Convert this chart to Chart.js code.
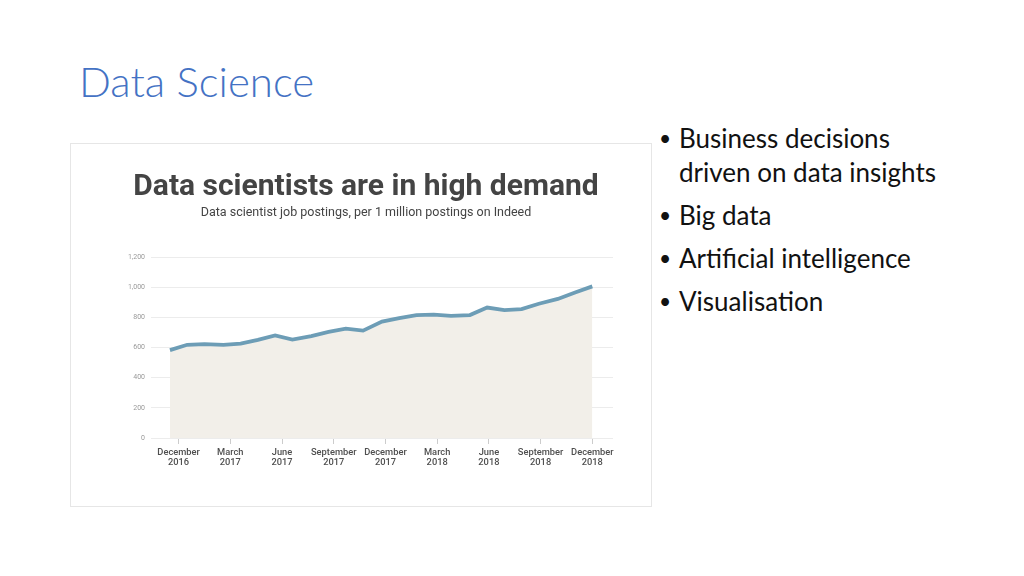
<!DOCTYPE html>
<html>
<head>
<meta charset="utf-8">
<script src="https://cdn.jsdelivr.net/npm/chart.js@4.4.1/dist/chart.umd.min.js"></script>
<style>
  html, body { margin: 0; padding: 0; background: #fff; }
  body { width: 1024px; height: 576px; position: relative; overflow: hidden; font-family: Lato, "Open Sans", sans-serif; }
  #titre { position: absolute; left: 79px; top: 56px; font-size: 42px; font-weight: 300; color: #4472c4; }
  #cadre { position: absolute; left: 70px; top: 143px; width: 580px; height: 362px; border: 1px solid #e6e6e6; background: #fff; }
  #graf { position: absolute; left: 0; top: 0; }
  ul { position: absolute; left: 658px; top: 121px; margin: 0; padding: 0; list-style: none; font-size: 26px; color: #111; width: 300px; }
  li { position: relative; padding-left: 21px; line-height: 34px; margin-bottom: 9px; }
  li:before { content: "\2022"; position: absolute; left: 1px; top: 0; font-size: 21px; }
</style>
</head>
<body>
<div id="titre">Data Science</div>
<div id="cadre"><canvas id="graf" width="580" height="362"></canvas></div>
<ul>
  <li>Business decisions driven on data insights</li>
  <li>Big data</li>
  <li>Artificial intelligence</li>
  <li>Visualisation</li>
</ul>
<script>
// posições em meses a partir de dezembro 2016
const meses = [-0.5, 0.5, 1.5, 2.6, 3.6, 4.6, 5.6, 6.6, 7.7, 8.7, 9.7, 10.7, 11.8,
               12.8, 13.8, 14.8, 15.8, 16.9, 17.9, 18.9, 19.9, 20.9, 22.0, 23.0, 24.0];
const vagas = [583, 618, 623, 618, 625, 650, 680, 652, 676, 703, 725, 712, 772,
               795, 815, 818, 810, 815, 865, 848, 855, 890, 922, 965, 1005];

const posTicks = [0, 3, 6, 9, 12, 15, 18, 21, 24];
const rotulosX = [
    ['December', '2016'], ['March', '2017'], ['June', '2017'], ['September', '2017'],
    ['December', '2017'], ['March', '2018'], ['June', '2018'], ['September', '2018'],
    ['December', '2018']
];
const ticksY = [0, 200, 400, 600, 800, 1000, 1200];

const pontos = meses.map((m, i) => ({ x: m, y: vagas[i] }));

const ctx = document.getElementById('graf').getContext('2d');
const grafico = new Chart(ctx, {
    type: 'line',
    data: {
        datasets: [{
            data: pontos,
            borderColor: '#6d9db6',
            backgroundColor: '#f2efe9',
            borderWidth: 3.8,
            fill: 'origin',
            pointRadius: 0,
            tension: 0
        }]
    },
    options: {
        responsive: false,
        animation: false,
        layout: { padding: { left: 10, right: 0, top: 0, bottom: 38 } },
        plugins: {
            legend: { display: false },
            tooltip: { enabled: false },
            title: {
                display: true,
                text: 'Data scientists are in high demand',
                color: '#444444',
                font: { family: 'Roboto', size: 30, weight: 'bold' },
                padding: { top: 25, bottom: 0 }
            },
            subtitle: {
                display: true,
                text: 'Data scientist job postings, per 1 million postings on Indeed',
                color: '#444444',
                font: { family: 'Roboto', size: 12.5 },
                padding: { top: 0, bottom: 37 }
            }
        },
        scales: {
            x: {
                type: 'linear',
                min: -1.6,
                max: 25.2,
                afterBuildTicks: (eixo) => { eixo.ticks = posTicks.map(v => ({ value: v })); },
                afterFit: (eixo) => { eixo.height = 30; },
                border: { display: false },
                grid: { drawOnChartArea: false, drawTicks: true, tickLength: 6, color: '#cccccc' },
                ticks: {
                    autoSkip: false,
                    maxRotation: 0,
                    padding: 3,
                    color: '#4f4f4f',
                    font: { family: 'Roboto', size: 9.3, weight: '500', lineHeight: 1.15 },
                    callback: (v) => rotulosX[posTicks.indexOf(v)]
                }
            },
            y: {
                min: 0,
                max: 1200,
                afterBuildTicks: (eixo) => { eixo.ticks = ticksY.map(v => ({ value: v })); },
                afterFit: (eixo) => { eixo.width = 70; },
                border: { display: false },
                grid: { color: '#ececec', drawTicks: false },
                ticks: {
                    padding: 6,
                    color: '#999999',
                    font: { family: 'Roboto', size: 7 },
                    callback: (v) => v.toLocaleString('en-US')
                }
            },
            margem: {
                type: 'linear',
                position: 'right',
                afterFit: (eixo) => { eixo.width = 38; },
                border: { display: false },
                grid: { display: false },
                ticks: { display: false }
            }
        }
    }
});
</script>
</body>
</html>
